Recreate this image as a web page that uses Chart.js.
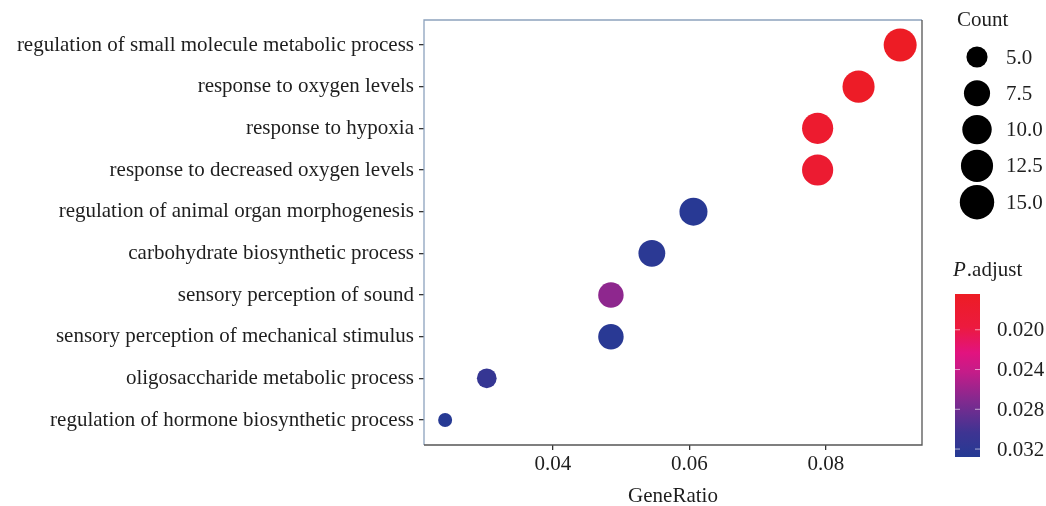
<!DOCTYPE html>
<html>
<head>
<meta charset="utf-8">
<script src="https://cdn.jsdelivr.net/npm/chart.js@4.4.1/dist/chart.umd.min.js"></script>
<style>
  html, body { margin: 0; padding: 0; background: #fff; }
  #wrap { width: 1046px; height: 506px; }
</style>
</head>
<body>
<div id="wrap"><canvas id="dotChart" width="1046" height="506"></canvas></div>
<script>
// ----- data (top to bottom as in the figure) -----
const categories = [
  'regulation of small molecule metabolic process',
  'response to oxygen levels',
  'response to hypoxia',
  'response to decreased oxygen levels',
  'regulation of animal organ morphogenesis',
  'carbohydrate biosynthetic process',
  'sensory perception of sound',
  'sensory perception of mechanical stimulus',
  'oligosaccharide metabolic process',
  'regulation of hormone biosynthetic process'
];
const geneRatio = [0.0909, 0.0848, 0.0788, 0.0788, 0.0606, 0.0545, 0.0485, 0.0485, 0.0303, 0.0242];
const counts = [15, 14, 13, 13, 10, 9, 8, 8, 5, 4];
const pAdjust = [0.0165, 0.0168, 0.0178, 0.0181, 0.0325, 0.0322, 0.0266, 0.0324, 0.0312, 0.0326];

const xTicks = [0.04, 0.06, 0.08];
const sizeBreaks = [5.0, 7.5, 10.0, 12.5, 15.0];
const colorBreaks = [0.020, 0.024, 0.028, 0.032];

// ----- scales for size and colour -----
const countMin = 4, countMax = 15;
const pLow = 0.0164, pHigh = 0.0328;
const FONT = '"Liberation Serif", "DejaVu Serif", serif';
const FS = 21;
const TEXT = '#1e1e1e';

function radiusFor(c) {
  const t = Math.max(0, (c - countMin) / (countMax - countMin));
  return 7 + 9.5 * Math.sqrt(t);
}

const gradStops = [
  [0.00, [237, 28, 36]],
  [0.20, [236, 26, 62]],
  [0.36, [226, 19, 127]],
  [0.48, [196, 28, 137]],
  [0.66, [128, 42, 143]],
  [0.85, [62, 52, 146]],
  [1.00, [37, 58, 148]]
];

function colorFor(p) {
  const t = Math.min(1, Math.max(0, (p - pLow) / (pHigh - pLow)));
  for (let i = 1; i < gradStops.length; i++) {
    if (t <= gradStops[i][0]) {
      const a = gradStops[i - 1], b = gradStops[i];
      const f = (t - a[0]) / (b[0] - a[0]);
      const c = a[1].map((v, k) => Math.round(v + (b[1][k] - v) * f));
      return `rgb(${c[0]},${c[1]},${c[2]})`;
    }
  }
  return 'rgb(37,58,148)';
}

const n = categories.length;
const points = geneRatio.map((g, i) => ({ x: g, y: n - i }));

// ----- plot frame + legends -----
const framePlugin = {
  id: 'frame',
  afterDatasetsDraw(chart) {
    const ctx = chart.ctx;
    const a = chart.chartArea;
    ctx.save();
    ctx.lineWidth = 1.3;
    ctx.strokeStyle = '#8da2bd';
    ctx.beginPath();
    ctx.moveTo(a.left, a.bottom);
    ctx.lineTo(a.left, a.top);
    ctx.lineTo(a.right, a.top);
    ctx.stroke();
    ctx.strokeStyle = '#555';
    ctx.beginPath();
    ctx.moveTo(a.left, a.bottom);
    ctx.lineTo(a.right, a.bottom);
    ctx.lineTo(a.right, a.top);
    ctx.stroke();
    ctx.restore();
  }
};

const legendPlugin = {
  id: 'sideLegends',
  afterDraw(chart) {
    const ctx = chart.ctx;
    const a = chart.chartArea;
    const lx = a.right + 35;
    ctx.save();
    ctx.fillStyle = TEXT;
    ctx.font = FS + 'px ' + FONT;
    ctx.textBaseline = 'middle';
    ctx.textAlign = 'left';

    // size legend
    ctx.fillText('Count', lx, 20);
    sizeBreaks.forEach((c, i) => {
      const cy = 57 + i * 36.3;
      ctx.fillStyle = '#000';
      ctx.beginPath();
      ctx.arc(lx + 20, cy, radiusFor(c) + 0.7, 0, Math.PI * 2);
      ctx.fill();
      ctx.fillStyle = TEXT;
      ctx.fillText(c.toFixed(1), lx + 49, cy + 1);
    });

    // colour bar
    const bx = lx - 2, bw = 25, bTop = 294, bBot = 457;
    ctx.font = 'italic ' + FS + 'px ' + FONT;
    ctx.fillText('P', bx - 2, 270);
    const pw = ctx.measureText('P').width;
    ctx.font = FS + 'px ' + FONT;
    ctx.fillText('.adjust', bx - 1 + pw, 270);

    const g = ctx.createLinearGradient(0, bTop, 0, bBot);
    gradStops.forEach(s => g.addColorStop(s[0], `rgb(${s[1].join(',')})`));
    ctx.fillStyle = g;
    ctx.fillRect(bx, bTop, bw, bBot - bTop);

    colorBreaks.forEach(p => {
      const y = bTop + (p - pLow) / (pHigh - pLow) * (bBot - bTop);
      ctx.strokeStyle = 'rgba(255,255,255,0.6)';
      ctx.lineWidth = 1;
      ctx.beginPath();
      ctx.moveTo(bx, y); ctx.lineTo(bx + 5, y);
      ctx.moveTo(bx + bw - 5, y); ctx.lineTo(bx + bw, y);
      ctx.stroke();
      ctx.fillStyle = TEXT;
      ctx.fillText(p.toFixed(3), bx + bw + 17, y + 1);
    });
    ctx.restore();
  }
};

new Chart(document.getElementById('dotChart').getContext('2d'), {
  type: 'scatter',
  data: {
    datasets: [{
      data: points,
      pointRadius: ctx => radiusFor(counts[ctx.dataIndex]),
      pointHoverRadius: ctx => radiusFor(counts[ctx.dataIndex]),
      backgroundColor: ctx => colorFor(pAdjust[ctx.dataIndex]),
      borderWidth: 0
    }]
  },
  options: {
    responsive: false,
    animation: false,
    events: [],
    layout: { padding: { left: 0, right: 124, top: 20, bottom: 0 } },
    plugins: {
      legend: { display: false },
      tooltip: { enabled: false }
    },
    scales: {
      x: {
        type: 'linear',
        min: 0.0211,
        max: 0.0941,
        afterBuildTicks: s => { s.ticks = xTicks.map(v => ({ value: v })); },
        afterFit: s => { s.height = 61; },
        border: { display: false },
        grid: { drawOnChartArea: false, tickLength: 5, color: '#333', lineWidth: 1.3 },
        ticks: {
          padding: 2,
          color: TEXT,
          font: { family: FONT, size: FS },
          callback: v => v.toFixed(2)
        },
        title: {
          display: true,
          text: 'GeneRatio',
          color: TEXT,
          font: { family: FONT, size: FS, lineHeight: 0.9 },
          padding: { top: 13, bottom: 0 }
        }
      },
      y: {
        type: 'linear',
        min: 0.4,
        max: n + 0.6,
        afterBuildTicks: s => { s.ticks = categories.map((_, i) => ({ value: n - i })); },
        afterFit: s => { s.width = 424; },
        border: { display: false },
        grid: { drawOnChartArea: false, tickLength: 5, color: '#333', lineWidth: 1.3 },
        ticks: {
          padding: 5,
          color: TEXT,
          font: { family: FONT, size: FS },
          callback: v => categories[n - v]
        }
      }
    }
  },
  plugins: [framePlugin, legendPlugin]
});
</script>
</body>
</html>
